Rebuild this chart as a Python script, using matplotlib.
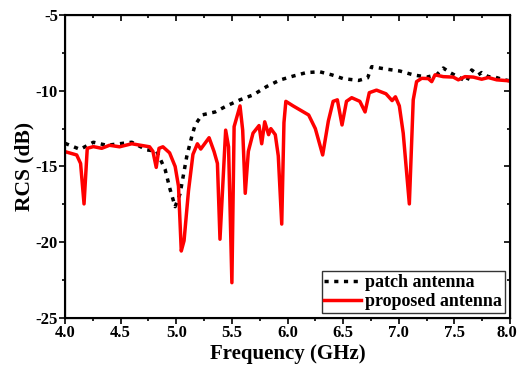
import numpy as np
import matplotlib
matplotlib.use('Agg')
import matplotlib.pyplot as plt
import matplotlib.transforms as mtransforms
from matplotlib.ticker import MultipleLocator

plt.rcParams['font.family'] = ['Liberation Serif', 'DejaVu Serif']
plt.rcParams['font.weight'] = 'bold'
plt.rcParams['axes.unicode_minus'] = False

# patch antenna (black dotted)
f_patch = [4.0, 4.135, 4.255, 4.375, 4.60, 4.734, 4.824, 4.9, 4.944, 4.99, 5.034,
           5.094, 5.14, 5.17, 5.23, 5.35, 5.453, 5.573, 5.693, 5.813, 5.933, 6.052,
           6.17, 6.29, 6.397, 6.50, 6.64, 6.72, 6.757, 6.876, 7.01, 7.13, 7.25,
           7.34, 7.40, 7.46, 7.55, 7.61, 7.655, 7.715, 7.745, 7.805, 7.865, 7.925, 8.0]
rcs_patch = [-13.47, -13.87, -13.4, -13.6, -13.4, -13.9, -14.0, -15.2, -16.5, -17.65, -16.8,
             -14.35, -13.0, -12.25, -11.6, -11.4, -11.0, -10.6, -10.27, -9.72, -9.29, -9.03,
             -8.8, -8.75, -8.95, -9.2, -9.32, -9.15, -8.41, -8.56, -8.7, -8.95, -9.1,
             -8.95, -8.5, -8.8, -9.15, -9.4, -8.63, -8.95, -8.8, -9.07, -9.1, -9.24, -9.35]

# proposed antenna (red solid)
f_prop = [4.0, 4.105, 4.14, 4.171, 4.2, 4.255, 4.33, 4.40, 4.49, 4.60, 4.76, 4.79, 4.82,
          4.845, 4.88, 4.94, 4.99, 5.02, 5.045, 5.07, 5.11, 5.15, 5.19, 5.22, 5.295,
          5.34, 5.37, 5.393, 5.444, 5.47, 5.50, 5.52, 5.573, 5.597, 5.62, 5.648, 5.69,
          5.744, 5.768, 5.795, 5.83, 5.85, 5.89, 5.917, 5.948, 5.968, 5.985, 6.05, 6.19,
          6.25, 6.316, 6.367, 6.41, 6.448, 6.49, 6.53, 6.577, 6.65, 6.697, 6.735, 6.80,
          6.885, 6.94, 6.97, 7.005, 7.04, 7.095, 7.13, 7.16, 7.206, 7.266, 7.296, 7.326,
          7.40, 7.49, 7.535, 7.595, 7.67, 7.745, 7.805, 7.88, 8.0]
rcs_prop = [-14.02, -14.24, -14.8, -17.47, -13.8, -13.69, -13.8, -13.6, -13.7, -13.5, -13.7,
            -14.0, -15.06, -13.8, -13.7, -14.1, -15.0, -16.3, -20.58, -19.9, -16.6, -14.2,
            -13.5, -13.85, -13.1, -14.02, -14.8, -19.8, -12.6, -13.7, -22.67, -12.37, -11.0,
            -12.6, -16.77, -14.0, -12.8, -12.3, -13.5, -12.05, -12.9, -12.5, -12.9, -14.3,
            -18.8, -12.1, -10.7, -11.0, -11.6, -12.5, -14.24, -12.0, -10.7, -10.6, -12.26,
            -10.7, -10.46, -10.7, -11.4, -10.13, -9.96, -10.2, -10.65, -10.4, -11.0, -12.8,
            -17.47, -10.6, -9.4, -9.18, -9.2, -9.4, -8.95, -9.07, -9.1, -9.28, -9.07, -9.1,
            -9.24, -9.13, -9.28, -9.35]

fig = plt.figure(figsize=(5.18, 3.71), dpi=100)
ax = fig.add_axes([0.1255, 0.1429, 0.8591, 0.8167])

ax.plot(f_patch, rcs_patch, color='black', linestyle=(0, (1.2, 1.6)), linewidth=2.5,
        label='patch antenna')
ax.plot(f_prop, rcs_prop, color='red', linewidth=2.5, label='proposed antenna')

ax.set_xlim(4.0, 8.0)
ax.set_ylim(-25, -5)
ax.xaxis.set_major_locator(MultipleLocator(0.5))
ax.xaxis.set_minor_locator(MultipleLocator(0.25))
ax.yaxis.set_major_locator(MultipleLocator(5))
ax.yaxis.set_minor_locator(MultipleLocator(2.5))
ax.set_xticks(np.arange(4.0, 8.01, 0.5))
ax.set_xticklabels(['%.1f' % v for v in np.arange(4.0, 8.01, 0.5)])
ax.tick_params(which='both', direction='out', labelsize=12, width=1.2, pad=1)
ax.tick_params(which='major', length=4)
ax.tick_params(which='minor', length=2.5)
for s in ax.spines.values():
    s.set_linewidth(1.5)

# keep the last x label inside the figure
last = ax.get_xticklabels()[-1]
last.set_transform(last.get_transform() +
                   mtransforms.ScaledTranslation(-3 / 100, 0, fig.dpi_scale_trans))

ax2 = ax.twinx()
ax2.set_ylim(ax.get_ylim())
ax2.yaxis.set_major_locator(MultipleLocator(5))
ax2.yaxis.set_minor_locator(MultipleLocator(2.5))
ax2.tick_params(which='both', direction='in', labelright=False)
ax3 = ax.twiny()
ax3.set_xlim(ax.get_xlim())
ax3.xaxis.set_major_locator(MultipleLocator(0.5))
ax3.xaxis.set_minor_locator(MultipleLocator(0.25))
ax3.tick_params(which='both', direction='in', labeltop=False)
for a in (ax2, ax3):
    a.tick_params(which='major', length=4, width=1.2)
    a.tick_params(which='minor', length=2.5, width=1.2)

ax.set_xlabel('Frequency (GHz)', fontsize=15, fontweight='bold', labelpad=2)
ax.set_ylabel('RCS (dB)', fontsize=15.5, fontweight='bold', labelpad=1)

leg = ax.legend(loc='lower right', fontsize=13, frameon=True, fancybox=False,
                edgecolor='black', borderpad=0.15, handlelength=2.0,
                labelspacing=0.1, handletextpad=0.25, borderaxespad=0.3)
leg.get_frame().set_linewidth(1.0)
for t in leg.get_texts():
    t.set_fontweight('bold')

fig.savefig('out.png', dpi=100)
